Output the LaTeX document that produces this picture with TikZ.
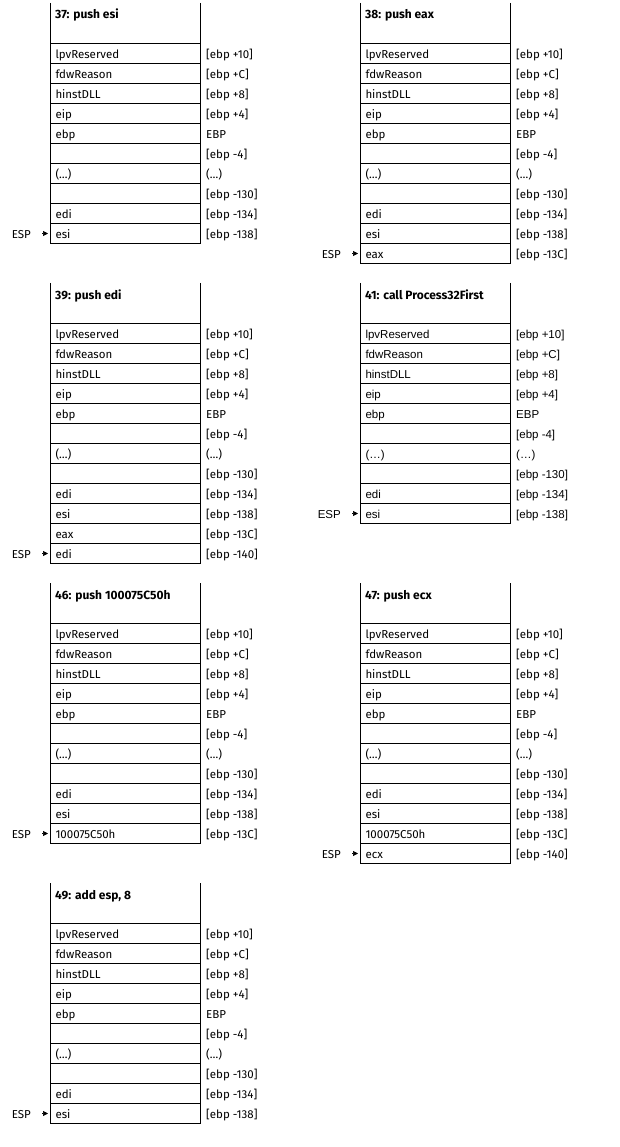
\documentclass[tikz,border=0pt]{standalone}
\usepackage{fontspec}
\setmainfont{Fira Sans}
\newfontfamily\arialfont{Liberation Sans}
\usetikzlibrary{arrows.meta,positioning}

\tikzset{
  rowfont/.style={font=\fontsize{11.5}{13}\selectfont},
  frame/.style={line width=1pt},
  titlecell/.style={rectangle, minimum width=150pt, minimum height=40pt, inner sep=0pt, anchor=north west},
  titletext/.style={font=\bfseries\fontsize{12}{14}\selectfont, inner sep=0pt, anchor=base west},
  cell/.style={draw, frame, rectangle, text width=140pt, align=left, minimum height=20pt,
    inner xsep=5pt, inner ysep=0pt, text height=10pt, text depth=0pt, anchor=north west, rowfont},
  addr/.style={inner sep=0pt, anchor=base west, rowfont},
  esplabel/.style={inner sep=0pt, text height=10pt, text depth=0pt, anchor=base east, rowfont},
  esparrow/.style={-{Triangle[length=5pt,width=5pt]}, line width=0.6pt, shorten <=11pt, shorten >=2pt}
}

% #1 name, #2 x, #3 y, #4 title, #5 rows pushed after esi
\newcommand\stackframe[5]{
  \node[titlecell] (#1-t) at (#2,#3) {};
  \draw[frame] (#1-t.north west) -- (#1-t.south west) (#1-t.north east) -- (#1-t.south east);
  \node[titletext] (#1-title) at ([xshift=5pt,yshift=-16pt]#1-t.north west) {#4};
  \foreach \cell/\addr [count=\i] in {lpvReserved/{[ebp +10]}, fdwReason/{[ebp +C]}, hinstDLL/{[ebp +8]},
      eip/{[ebp +4]}, ebp/EBP, {}/{[ebp -4]}, {(…)}/{(…)}, {}/{[ebp -130]}, edi/{[ebp -134]}, esi/{[ebp -138]}} {
    \node[cell] (#1-\i) at (#2,#3+20+20*\i) {\cell};
    \node[addr] (#1-a\i) at ([xshift=5pt]#1-\i.base east) {\addr};
    \xdef\lastcell{#1-\i}
  }
  \if\relax\detokenize{#5}\relax\else
  \foreach \cell/\addr [count=\i from 11] in {#5} {
    \node[cell] (#1-\i) at (#2,#3+20+20*\i) {\cell};
    \node[addr] (#1-a\i) at ([xshift=5pt]#1-\i.base east) {\addr};
    \xdef\lastcell{#1-\i}
  }
  \fi
  \node[esplabel] (#1-esp) at ([xshift=-19pt]\lastcell.base west) {ESP};
  \draw[esparrow] (#1-esp) -- (\lastcell);
}

\begin{document}
\begin{tikzpicture}[x=1pt, y=-1pt]
\useasboundingbox (0,0) rectangle (620,1147);

\stackframe{p37}{50}{3}{37: push esi}{}
\stackframe{p38}{360}{3}{38: push eax}{eax/{[ebp -13C]}}
\stackframe{p39}{50}{283}{39: push edi}{eax/{[ebp -13C]}, edi/{[ebp -140]}}
\begin{scope}[rowfont/.style={font=\arialfont\fontsize{11.5}{13}\selectfont}]
\stackframe{p41}{360}{283}{41: call Process32First}{}
\end{scope}
\stackframe{p46}{50}{583}{46: push 100075C50h}{100075C50h/{[ebp -13C]}}
\stackframe{p47}{360}{583}{47: push ecx}{100075C50h/{[ebp -13C]}, ecx/{[ebp -140]}}
\stackframe{p49}{50}{883}{49: add esp, 8}{}

\end{tikzpicture}
\end{document}
